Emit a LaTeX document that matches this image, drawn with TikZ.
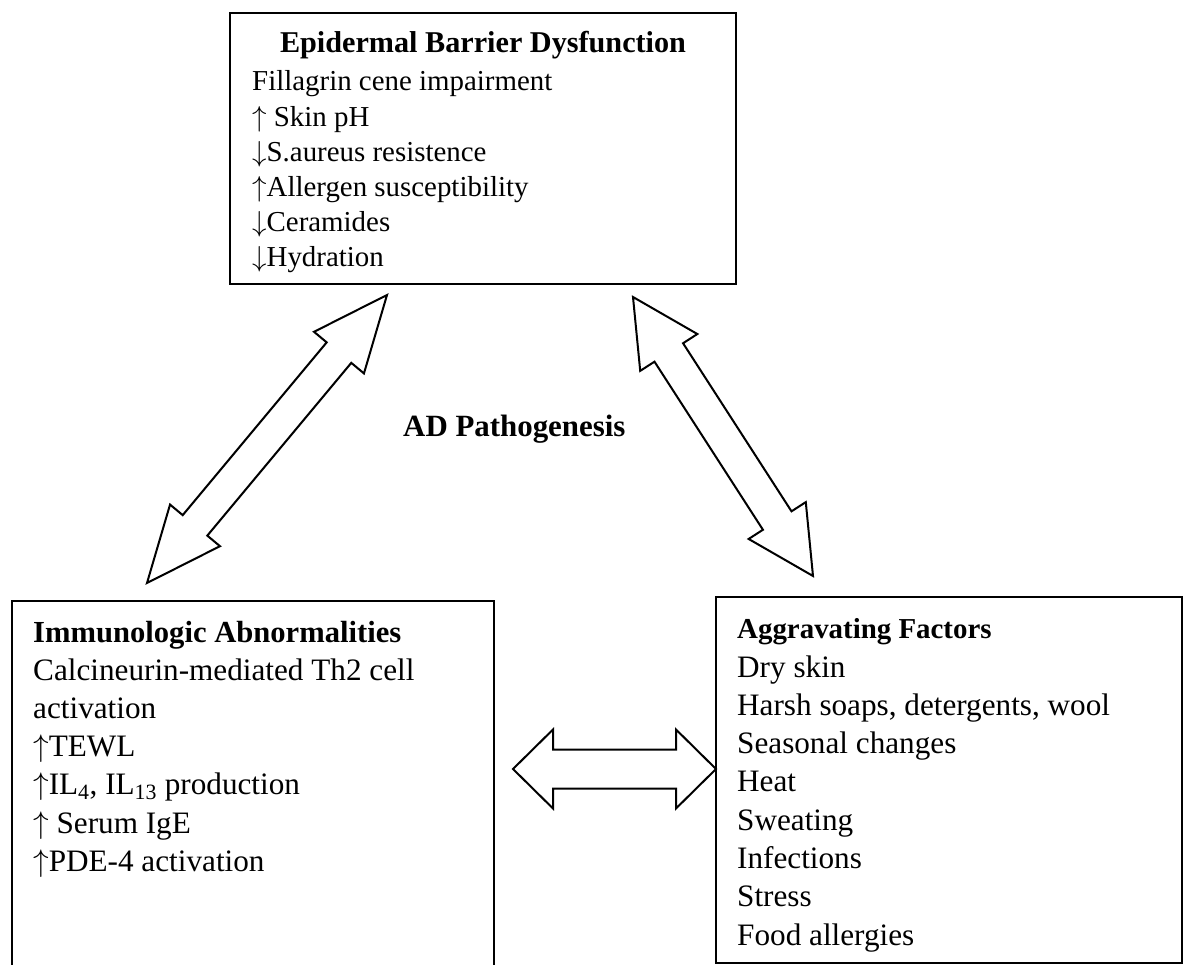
\RequirePackage{fix-cm}
\documentclass[tikz,border=0pt]{standalone}
\usepackage{fontspec}
\setmainfont{Liberation Serif}
\usetikzlibrary{calc}
\newcommand\fsz[1]{\fontsize{#1}{#1}\selectfont}
\newcommand\uparr{$\uparrow$}
\newcommand\dnarr{$\downarrow$}
\newcommand\blockdbl[5]{%
  \draw[arrowshape] (#1)
  -- ($(#1)!#3!(#2)!#4!90:(#2)$)
  -- ($(#1)!#3!(#2)!#5!90:(#2)$)
  -- ($(#2)!#3!(#1)!#5!-90:(#1)$)
  -- ($(#2)!#3!(#1)!#4!-90:(#1)$)
  -- (#2)
  -- ($(#2)!#3!(#1)!#4!90:(#1)$)
  -- ($(#2)!#3!(#1)!#5!90:(#1)$)
  -- ($(#1)!#3!(#2)!#5!-90:(#2)$)
  -- ($(#1)!#3!(#2)!#4!-90:(#2)$)
  -- cycle;}
\tikzset{
  boxnode/.style={draw, line width=2pt, inner sep=0pt, outer sep=0pt},
  arrowshape/.style={draw, line width=2pt, line join=miter, fill=white},
  toptext/.style={anchor=base west, inner sep=0pt, font=\fsz{28.9}},
  bottext/.style={anchor=base west, inner sep=0pt, font=\fsz{31.2}},
  titletext/.style={inner sep=0pt, font=\bfseries\fsz{#1}}
}
\begin{document}
\begin{tikzpicture}[x=1pt,y=-1pt]
\useasboundingbox (0,0) rectangle (1184,965);
\clip (0,0) rectangle (1184,965);
% boxes
\node[boxnode, minimum width=506pt, minimum height=271pt] (epi) at (483,148.5) {};
\node[boxnode, minimum width=482pt, minimum height=420pt] (imm) at (253,811) {};
\node[boxnode, minimum width=466pt, minimum height=366pt] (agg) at (949,780) {};
% titles
\node[titletext=30.2, anchor=base] (epititle) at (483,53) {Epidermal Barrier Dysfunction};
\node[titletext=30.6, anchor=base west] (immtitle) at (33,642) {Immunologic Abnormalities};
\node[titletext=28.9, anchor=base west] (aggtitle) at (737,638) {Aggravating Factors};
\node[titletext=30.9, anchor=base west] (center) at (403,437) {AD Pathogenesis};
% top box lines
\foreach \t [count=\i] in {Fillagrin cene impairment, \uparr{} Skin pH, \dnarr S.aureus resistence,
  \uparr Allergen susceptibility, \dnarr Ceramides, \dnarr Hydration}
  \node[toptext, name=epil\i] at (252,{91+35.2*(\i-1)}) {\t};
% left box lines
\foreach \t [count=\i] in {Calcineurin-mediated Th2 cell, activation, \uparr TEWL,
  {\uparr IL\textsubscript{4}, IL\textsubscript{13} production}, \uparr{} Serum IgE, \uparr PDE-4 activation}
  \node[bottext, name=imml\i] at (33,{680+38.3*(\i-1)}) {\t};
% right box lines
\foreach \t [count=\i] in {Dry skin, {Harsh soaps, detergents, wool}, Seasonal changes,
  Heat, Sweating, Infections, Stress, Food allergies}
  \node[bottext, name=aggl\i] at (737,{677+38.3*(\i-1)}) {\t};
% arrow tips
\coordinate (la) at (387,295);
\coordinate (lb) at (147,583);
\coordinate (ra) at (633,297);
\coordinate (rb) at (813,576);
\coordinate (ha) at (513,769);
\coordinate (hb) at (716,769);
\blockdbl{la}{lb}{75pt}{32.5pt}{16pt}
\blockdbl{ra}{rb}{66pt}{34pt}{17pt}
\blockdbl{ha}{hb}{40pt}{39.5pt}{19.5pt}
\end{tikzpicture}
\end{document}
